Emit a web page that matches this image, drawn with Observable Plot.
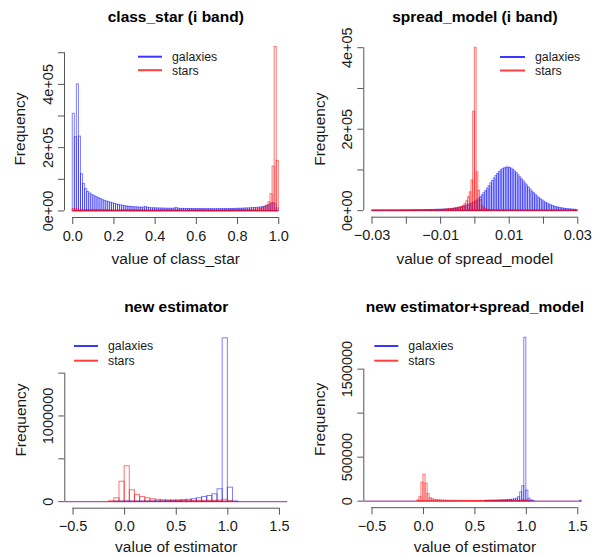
<!DOCTYPE html>
<html><head><meta charset="utf-8">
<script src="https://cdn.jsdelivr.net/npm/d3@7"></script>
<script src="https://cdn.jsdelivr.net/npm/@observablehq/plot@0.6"></script>
<style>
html,body{margin:0;padding:0;background:#fff;}
#wrap{position:relative;width:595px;height:556px;overflow:hidden;font-family:"Liberation Sans",Arial,sans-serif;}
</style></head><body><div id="wrap"></div>
<script>
// ---------- shared ----------
const legendLabels = ["galaxies", "stars"];

// ---------- panel 1: class_star (i band) ----------
const classStarTitle = "class_star (i band)";
const classStarXLabel = "value of class_star";
const classStarBinStart = 0, classStarBinWidth = 0.01;
const classStarGalaxies = [
  307000,233000,400000,235000,116000,85000,69000,60000,55000,51000,
  47000,44000,41000,38000,35000,32000,30000,28000,26000,24000,
  22000,20000,19000,17500,16000,15000,14000,13000,12500,12000,
  11500,11000,10500,10000,10500,12500,10000,9000,8500,8200,
  8000,7800,7600,7400,7200,7000,6900,6800,6700,7500,
  9500,6800,6500,6400,6300,6200,6100,6000,6000,5900,
  5900,5800,5800,5700,5700,5700,5600,5600,5600,5600,
  5600,5700,5700,5800,5800,5900,6000,6100,6300,6500,
  6700,6900,7100,7400,7700,8000,8400,8800,9200,9700,
  10300,11000,12000,13500,15500,18500,22000,25000,21000,8000];
const classStarStars = [
  6000,5000,4500,4000,3500,3200,3000,2800,2600,2500,
  2400,2400,2300,2300,2200,2200,2200,2100,2100,2100,
  2000,2000,2000,2000,2000,2000,2000,2000,2000,2000,
  2000,2000,2000,2000,2000,2000,2000,2000,2000,2000,
  2000,2000,2000,2000,2000,2000,2000,2000,2000,2000,
  2000,2000,2000,2000,2000,2000,2000,2000,2000,2000,
  2000,2000,2000,2000,2000,2000,2000,2000,2000,2000,
  2100,2100,2200,2200,2300,2300,2400,2400,2500,2500,
  2600,2700,2800,2900,3000,3200,3400,3700,4000,4500,
  5000,6500,8500,12000,17000,27000,53000,140000,518000,158000];
const classStarXTicks = [0, 0.2, 0.4, 0.6, 0.8, 1.0];
const classStarXTickLabels = ["0.0", "0.2", "0.4", "0.6", "0.8", "1.0"];
const classStarYTicks = [0, 100000, 200000, 300000, 400000, 500000];
const classStarYTickLabels = ["0e+00", "", "2e+05", "", "4e+05", ""];

// ---------- panel 2: spread_model (i band) ----------
const spreadTitle = "spread_model (i band)";
const spreadXLabel = "value of spread_model";
const spreadBinStart = -0.03, spreadBinWidth = 0.0005;
const spreadGalaxies = [
  300,300,300,300,350,350,350,400,400,400,450,450,500,500,550,550,600,650,700,750,
  800,850,900,950,1000,1050,1100,1150,1200,1250,1300,1400,1500,1600,1700,1800,1900,2000,2100,2200,
  2300,2500,2700,2900,3100,3400,3700,4100,4500,5000,
  6000,7000,8000,9000,10500,12000,13500,15500,17500,19500,
  22000,25000,29000,33000,38000,43000,48000,54000,60000,67000,
  73000,79000,85000,90000,95000,99000,102000,104000,105500,106000,
  105000,103000,100000,96000,92000,87000,82000,77000,72000,67000,
  62000,57000,52000,47000,43000,39000,35000,31000,28000,25000,
  22000,19500,17000,15000,13000,11500,10000,8800,7700,6800,
  6000,5200,4600,4000,3500,3100,2700,2400,2100,1800];
const spreadStars = [
  150,150,150,150,150,150,150,150,150,150,150,150,150,150,150,150,150,150,200,200,
  200,200,250,250,300,300,350,400,450,500,550,600,650,700,800,850,900,1000,1100,1300,
  1500,1800,2100,2500,3000,3500,4000,4700,5500,6500,
  7000,8000,9000,12000,16000,23000,33000,45000,74000,243000,
  400000,94000,49000,26000,12000,6000,3500,2500,1800,1400,
  1200,1000,900,800,700,600,550,500,450,400,
  380,360,340,320,300,290,280,270,260,250,
  240,230,220,210,200,190,180,170,160,150,
  150,140,140,130,130,120,120,110,110,110,
  100,100,100,100,100,100,100,100,100,100];
const spreadXTicks = [-0.03, -0.02, -0.01, 0, 0.01, 0.02, 0.03];
const spreadXTickLabels = ["\u22120.03", "", "\u22120.01", "", "0.01", "", "0.03"];
const spreadYTicks = [0, 100000, 200000, 300000, 400000];
const spreadYTickLabels = ["0e+00", "", "2e+05", "", "4e+05"];

// ---------- panel 3: new estimator ----------
const newEstTitle = "new estimator";
const estXLabel = "value of estimator";
const newEstBinStart = -0.6, newEstBinWidth = 0.05;
const newEstGalaxies = [
  0,0,0,0,0,0,0,0,0,0,
  1000,2000,4000,3000,3000,3000,3000,4000,5000,6000,
  8000,10000,13000,17000,22000,28000,40000,55000,66000,86000,
  145000,1906000,163000,3000,0,0,0,0,0,0,
  0,0,0,0];
const newEstStars = [
  0,0,0,0,0,0,0,0,0,5000,
  40000,233000,413000,133000,78000,55000,40000,28000,22000,18000,
  15000,13000,11000,10000,9000,9000,9000,10000,10000,11000,
  13000,22000,8000,0,0,0,0,0,0,0,
  0,0,0,0];
const estXTicks = [-0.5, 0, 0.5, 1.0, 1.5];
const estXTickLabels = ["\u22120.5", "0.0", "0.5", "1.0", "1.5"];
const newEstYTicks = [0, 500000, 1000000, 1500000];
const newEstYTickLabels = ["0", "", "1000000", ""];

// ---------- panel 4: new estimator+spread_model ----------
const comboTitle = "new estimator+spread_model";
const comboBinWidth = 0.02;
const comboGalaxiesStart = 0.6;
const comboGalaxies = [
  3000,3500,4000,4500,5000,6000,7000,8000,9000,10000,
  11000,12500,14000,17000,21000,28000,45000,100000,170000,1857000,
  120000,27000,8000,3000,
  0,0,0,0,0,0,0,0,0,0,0,0,0,0,0,0,0,0,0,0,0,0,
  4000];
const comboStarsStart = -0.06;
const comboStars = [
  8000,45000,210000,300000,200000,80000,35000,22000,15000,11000,
  9000,7500,6500,5500,5000,4500,4000,3800,3600,3400,
  3300,3200,3100,3000,3000,2900,2900,2800,2800,2800,
  2800,2800,2800,2800,2900,2900,3000,3000,3100,3100,
  3200,3300,3400,3500,3600,3800,4000,4200,4500,5000,
  6000,8000,9000,4000,1500];
const comboYTicks = [0, 500000, 1000000, 1500000];
const comboYTickLabels = ["0", "500000", "", "1500000"];

// ---------- styling ----------
const GAL = "rgba(0,0,255,0.5)";
const STAR = "rgba(255,0,0,0.55)";
const legendColors = ["rgba(0,0,255,0.78)", "rgba(255,0,0,0.75)"];
const FONT = "'Liberation Sans', Arial, Helvetica, sans-serif";
const TXT = "#1a1a1a";
const AX = "#555";

function toBins(start, width, counts) {
  return counts.map((n, i) => ({x1: start + i * width, x2: start + (i + 1) * width, n}));
}

function panel(c) {
  const gal = toBins(c.galStart, c.binWidth, c.gal);
  const star = toBins(c.starStart, c.binWidth, c.star);
  const xLab = new Map(c.xTicks.map((t, i) => [t, c.xTickLabels[i]]));
  const yLabelled = c.yTicks.map((t, i) => ({t, s: c.yTickLabels[i]})).filter(d => d.s);
  const [mt, mr, mb, ml] = c.margin;
  const legend = (index, scales, values, dims) => {
    const g = d3.create("svg:g");
    legendLabels.forEach((lab, i) => {
      const y = c.legend.y + i * c.legend.gap;
      g.append("line").attr("x1", c.legend.x).attr("x2", c.legend.x + c.legend.len)
        .attr("y1", y).attr("y2", y).attr("stroke", legendColors[i]).attr("stroke-width", 2);
      g.append("text").attr("x", c.legend.x + c.legend.len + 10).attr("y", y).attr("dy", "0.35em")
        .attr("text-anchor", "start")
        .attr("font-size", 12.3).attr("fill", TXT).attr("font-family", FONT).text(lab);
    });
    return g.node();
  };
  const svg = Plot.plot({
    width: c.width, height: c.height,
    marginTop: mt, marginRight: mr, marginBottom: mb, marginLeft: ml,
    style: {fontFamily: FONT, background: "transparent", overflow: "visible"},
    x: {domain: c.xDomain},
    y: {domain: c.yDomain},
    marks: [
      Plot.rectY(gal, {x1: "x1", x2: "x2", y: "n", fill: "none", stroke: GAL, strokeWidth: 1}),
      Plot.ruleY([0], {x1: c.base[0], x2: c.base[1], stroke: GAL}),
      Plot.rectY(star, {x1: "x1", x2: "x2", y: "n", fill: "none", stroke: STAR, strokeWidth: 1}),
      Plot.ruleY([0], {x1: c.base[0], x2: c.base[1], stroke: STAR}),
      // x axis
      Plot.axisX(c.xTicks, {tickSize: 7, tickPadding: 6, tickFormat: d => xLab.get(d), fontSize: 14.5, stroke: AX, fill: TXT, label: null}),
      Plot.ruleY([c.yDomain[0]], {x1: c.xTicks[0], x2: c.xTicks[c.xTicks.length - 1], stroke: AX}),
      // y axis
      Plot.axisY(c.yTicks, {tickSize: 6, tickFormat: () => "", stroke: AX, label: null}),
      Plot.ruleX([c.xDomain[0]], {y1: c.yTicks[0], y2: c.yTicks[c.yTicks.length - 1], stroke: AX}),
      Plot.text(yLabelled, {y: "t", text: "s", frameAnchor: "left", textAnchor: "middle", lineAnchor: "middle", dx: -16.5, rotate: -90, fontSize: 14.5, fill: TXT}),
      // titles / labels
      Plot.text([c.title], {frameAnchor: "top", textAnchor: "middle", lineAnchor: "middle", dy: c.titleY - mt, fontWeight: "bold", fontSize: 15.5, fill: "#000"}),
      Plot.text([c.xLabel], {frameAnchor: "bottom", textAnchor: "middle", lineAnchor: "middle", dy: c.xLabelY - (c.height - mb), fontSize: 15.5, fill: TXT}),
      Plot.text(["Frequency"], {frameAnchor: "left", textAnchor: "middle", lineAnchor: "middle", dx: -44, rotate: -90, fontSize: 15.5, fill: TXT}),
      legend
    ]
  });
  svg.style.position = "absolute";
  svg.style.left = c.left + "px";
  svg.style.top = c.top + "px";
  svg.style.maxWidth = "none";
  document.getElementById("wrap").appendChild(svg);
}

panel({
  left: 0, top: 0, width: 297, height: 278, margin: [40, 10.5, 61, 64],
  xDomain: [-0.04, 1.04], yDomain: [-20700, 538700],
  galStart: classStarBinStart, starStart: classStarBinStart, binWidth: classStarBinWidth,
  gal: classStarGalaxies, star: classStarStars, base: [0, 1],
  xTicks: classStarXTicks, xTickLabels: classStarXTickLabels,
  yTicks: classStarYTicks, yTickLabels: classStarYTickLabels,
  title: classStarTitle, titleY: 16.7, xLabel: classStarXLabel, xLabelY: 258.5,
  legend: {x: 138, y: 56.7, gap: 13.5, len: 24}
});
panel({
  left: 297, top: 0, width: 298, height: 278, margin: [40.7, 9.5, 61.3, 66.3],
  xDomain: [-0.0324, 0.0324], yDomain: [-16000, 416000],
  galStart: spreadBinStart, starStart: spreadBinStart, binWidth: spreadBinWidth,
  gal: spreadGalaxies, star: spreadStars, base: [-0.03, 0.03],
  xTicks: spreadXTicks, xTickLabels: spreadXTickLabels,
  yTicks: spreadYTicks, yTickLabels: spreadYTickLabels,
  title: spreadTitle, titleY: 16.7, xLabel: spreadXLabel, xLabelY: 258.5,
  legend: {x: 203, y: 57, gap: 13.5, len: 25}
});
panel({
  left: 0, top: 278, width: 297, height: 278, margin: [53.3, 9.8, 48.3, 64.3],
  xDomain: [-0.58, 1.58], yDomain: [-76240, 1982240],
  galStart: newEstBinStart, starStart: newEstBinStart, binWidth: newEstBinWidth,
  gal: newEstGalaxies, star: newEstStars, base: [-0.58, 1.58],
  xTicks: estXTicks, xTickLabels: estXTickLabels,
  yTicks: newEstYTicks, yTickLabels: newEstYTickLabels,
  title: newEstTitle, titleY: 28.7, xLabel: estXLabel, xLabelY: 268.7,
  legend: {x: 74, y: 68, gap: 14.7, len: 24}
});
panel({
  left: 297, top: 278, width: 298, height: 278, margin: [52.7, 9.5, 48.8, 66.3],
  xDomain: [-0.58, 1.58], yDomain: [-74280, 1931280],
  galStart: comboGalaxiesStart, starStart: comboStarsStart, binWidth: comboBinWidth,
  gal: comboGalaxies, star: comboStars, base: [-0.58, 1.54],
  xTicks: estXTicks, xTickLabels: estXTickLabels,
  yTicks: comboYTicks, yTickLabels: comboYTickLabels,
  title: comboTitle, titleY: 28.7, xLabel: estXLabel, xLabelY: 268.7,
  legend: {x: 77.3, y: 68, gap: 14.7, len: 24}
});
</script></body></html>
